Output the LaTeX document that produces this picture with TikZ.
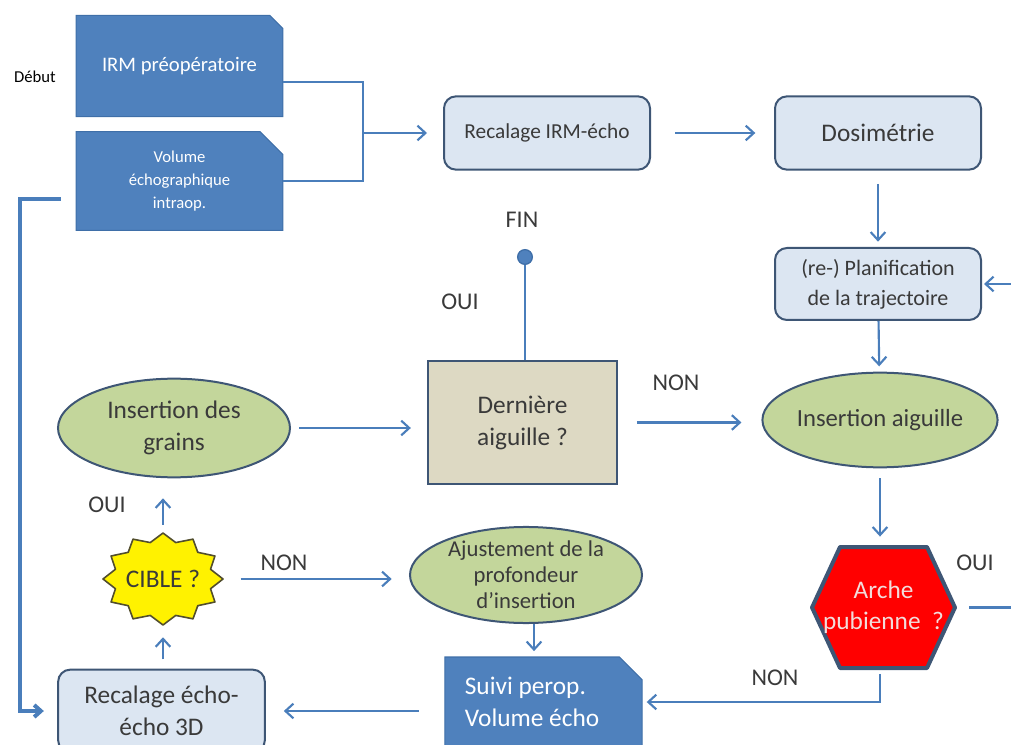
\documentclass[tikz,border=0pt]{standalone}
\usepackage{fontspec}
\setmainfont{Carlito}
\usetikzlibrary{positioning,shapes.geometric,shapes.misc,arrows.meta}

\definecolor{linkblue}{HTML}{4A7EBB}
\definecolor{darkfill}{HTML}{4F81BD}
\definecolor{darkedge}{HTML}{3F6FA8}
\definecolor{lightfill}{HTML}{DCE6F2}
\definecolor{lightedge}{HTML}{3E5675}
\definecolor{greenfill}{HTML}{C3D69B}
\definecolor{tanfill}{HTML}{DDD9C3}
\definecolor{textgray}{HTML}{3A3A3A}
\definecolor{pinktext}{HTML}{F2DCDB}
\newcommand\fsz[1]{\fontsize{#1}{\dimexpr#1pt*5/4\relax}\selectfont}

\begin{document}
\begin{tikzpicture}[x=0.75pt, y=-0.75pt,
  conn/.style={draw=linkblue, line width=1.6pt},
  arr/.style={conn, -{Straight Barb[length=6pt,width=11pt]}},
  snipbox/.style={chamfered rectangle, chamfered rectangle corners=north east,
    chamfered rectangle xsep=14pt, fill=darkfill, draw=darkedge, line width=0.8pt,
    text=white, align=center, inner sep=0pt},
  lightbox/.style={rectangle, rounded corners=9pt, fill=lightfill, draw=lightedge,
    line width=1.5pt, text=textgray, align=center, inner sep=0pt},
  greenell/.style={ellipse, fill=greenfill, draw=lightedge, line width=1.5pt,
    text=textgray, align=center, inner sep=0pt},
  lbl/.style={text=textgray, font=\fsz{18}}]

  \useasboundingbox (0,0) rectangle (1011,745);
  \clip (0,0) rectangle (1011,745);

  % Top row
  \node (debut) at (35,77) {\fsz{12.5}Début};
  \node[snipbox, minimum width=155pt, minimum height=76pt, font=\fsz{15.5}]
    (irm) at (179.5,66) {IRM préopératoire};
  \node[snipbox, minimum width=155pt, minimum height=74pt,
    font=\fontsize{12.5}{17.5}\selectfont]
    (vol) at (179.5,181) {Volume\\échographique\\intraop.};
  \node[lightbox, minimum width=154.5pt, minimum height=55pt, font=\fsz{16}]
    (recal) at (547,133) {Recalage IRM-écho};
  \node[lightbox, minimum width=154.5pt, minimum height=55pt, font=\fsz{19}]
    (dosi) at (878,133) {Dosimétrie};
  \node[lightbox, minimum width=154.5pt, minimum height=54pt,
    font=\fontsize{16.5}{22.5}\selectfont]
    (plan) at (878,284) {(re-) Planification\\de la trajectoire};

  % Middle row
  \node[rectangle, fill=tanfill, draw=lightedge, line width=1.5pt, text=textgray,
    align=center, minimum width=142pt, minimum height=92pt,
    font=\fontsize{19}{24}\selectfont]
    (dern) at (522.5,422.5) {Dernière\\aiguille ?};
  \node[greenell, minimum width=174pt, minimum height=74pt,
    font=\fontsize{19}{24}\selectfont]
    (grains) at (174,428) {Insertion des\\grains};
  \node[greenell, minimum width=170pt, minimum height=71pt, font=\fsz{18.5}]
    (ins) at (880,420) {Insertion aiguille};
  \node[circle, fill=darkfill, draw=darkedge, line width=1pt, minimum size=11pt,
    inner sep=0pt] (fin) at (525,257) {};
  \node[lbl] (finlbl) at (522,220) {FIN};

  % Star and hexagon
  \coordinate (cibleC) at (163,579);
  \filldraw[fill=yellow, draw=black!55!olive, line width=1.2pt, line join=round]
    ([shift={(0:60 and 46)}]cibleC)
    \foreach \i [evaluate=\i as \r using {mod(\i,2)==0 ? 1 : 0.82}] in {1,...,23} {
      -- ([shift={(\i*15:{60*\r} and {46*\r})}]cibleC)
    } -- cycle;
  \node[text=textgray, minimum width=90pt, minimum height=69pt, font=\fsz{19}]
    (cible) at (cibleC) {CIBLE ?};

  \coordinate (hexC) at (883.5,607.5);
  \filldraw[fill=red, draw=lightedge, line width=3pt, line join=round]
    ([shift={(-43.5,-60.5)}]hexC) -- ([shift={(43.5,-60.5)}]hexC)
    -- ([shift={(71.5,0)}]hexC) -- ([shift={(43.5,60.5)}]hexC)
    -- ([shift={(-43.5,60.5)}]hexC) -- ([shift={(-71.5,0)}]hexC) -- cycle;
  \node[text=pinktext, align=center, minimum width=107pt, minimum height=91pt,
    font=\fontsize{19}{23}\selectfont]
    (hex) at (hexC) {Arche\\pubienne\ \ ?};

  % Bottom row
  \node[greenell, minimum width=174pt, minimum height=72pt,
    font=\fontsize{17}{19.5}\selectfont]
    (ajust) at (526,575) {Ajustement de la\\profondeur\\d’insertion};
  \node[snipbox, minimum width=148pt, minimum height=67.5pt, align=flush left,
    text width=118pt, font=\fontsize{19}{23.5}\selectfont]
    (suivi) at (543.5,702) {Suivi perop.\\Volume écho};
  \node[lightbox, minimum width=155pt, minimum height=62pt,
    font=\fontsize{19}{24}\selectfont]
    (rec2) at (161.5,711) {Recalage écho-\\écho 3D};

  % Labels
  \node[lbl] (ouifin) at (460,302) {OUI};
  \node[lbl] (nondern) at (676,383) {NON};
  \node[lbl] (ouicible) at (107,505) {OUI};
  \node[lbl] (noncible) at (284,563) {NON};
  \node[lbl] (ouihex) at (975,563) {OUI};
  \node[lbl] (nonhex) at (775,678) {NON};

  % Connectors
  \coordinate (join) at (363,133);
  \draw[conn] ([shift={(0,16)}]irm.east) -| (join) |- (vol.east);
  \draw[arr, shorten >=12pt] (join) -- (recal.west);
  \draw[arr, shorten <=18pt, shorten >=14pt] (recal) -- (dosi);
  \draw[arr, shorten <=10pt, shorten >=4pt] (dosi) -- (plan);
  \draw[arr, shorten >=4pt] (plan) -- (ins);
  \draw[arr, shorten <=7.5pt, shorten >=7.5pt] (ins.south) -- (ins.south |- hex.north);
  \draw[arr, shorten <=4pt, shorten >=3pt] (hex.south -| ins.south) |- (suivi.east);
  \draw[conn, -{Straight Barb[length=6pt,width=11pt]}, shorten >=1.5pt]
    ([shift={(14,0)}]hex.east) -- (1040,607.5) |- (plan.east);
  \draw[arr, shorten <=14pt, shorten >=15pt] (dern.east) -- (ins.west |- dern.east);
  \draw[conn] (dern.north -| fin) -- (fin);
  \draw[arr, shorten <=6pt, shorten >=12pt] (grains.east) -- (dern.west |- grains.east);
  \draw[arr, shorten <=7pt, shorten >=9pt] (rec2.north -| cible) -- (cible.south);
  \draw[arr, shorten <=6pt, shorten >=15pt] (cible.north) -- (grains.south -| cible);
  \draw[arr, shorten <=13pt, shorten >=13pt] (cible.east) -- (ajust.west |- cible.east);
  \draw[arr, shorten >=4pt] (ajust.south -| 534,0) -- (suivi.north -| 534,0);
  \draw[arr, shorten <=19pt, shorten >=13.5pt] (suivi.west |- rec2.east) -- (rec2.east);
  \draw[draw=linkblue, line width=3pt, -{Straight Barb[length=5pt,width=9pt]},
    shorten >=10pt]
    ([shift={(-15,18)}]vol.west) -| (20,500) |- (rec2.west);
\end{tikzpicture}
\end{document}
